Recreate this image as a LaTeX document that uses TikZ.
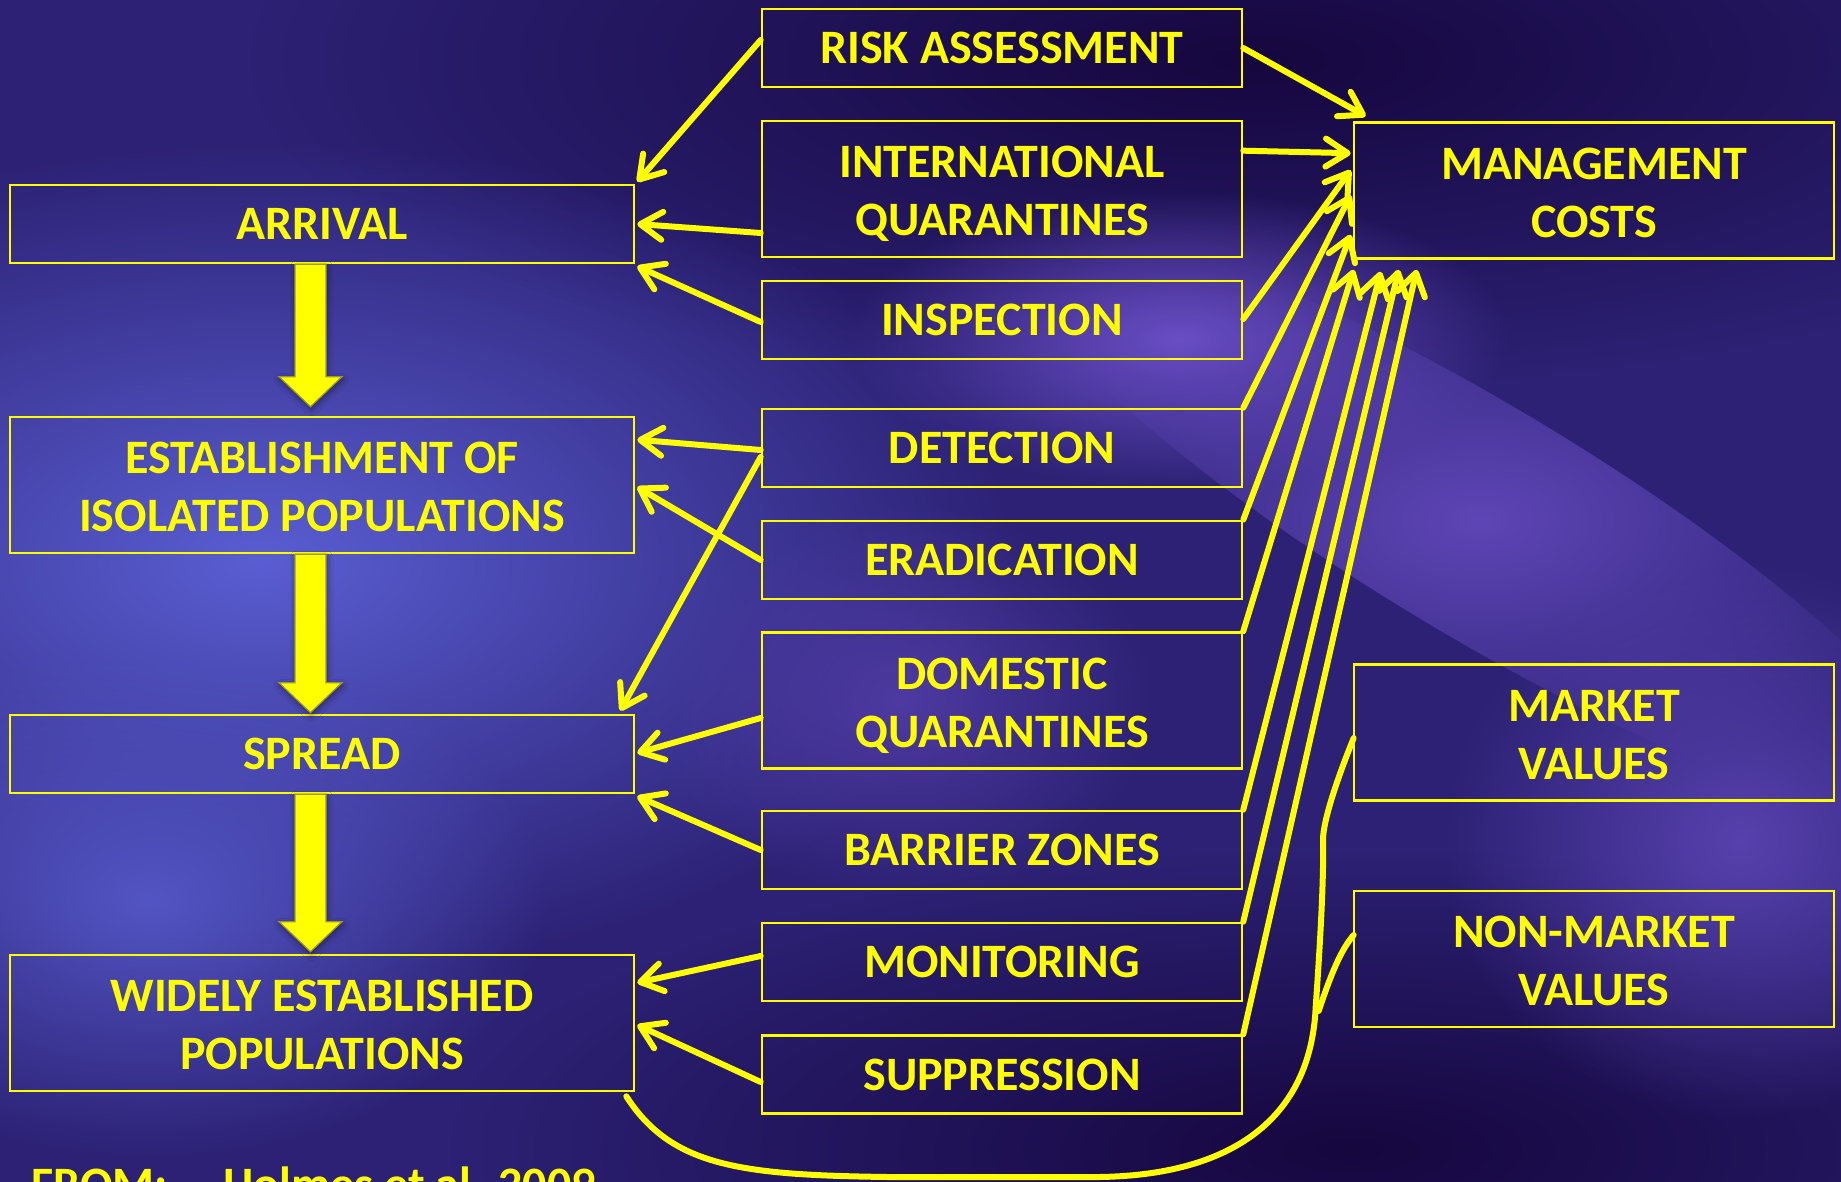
\documentclass[tikz,border=0pt]{standalone}
\usepackage{fontspec}
\setmainfont{Carlito}
\usetikzlibrary{arrows.meta,calc,fadings,shadows.blur}

\definecolor{bgbase}{HTML}{2C2174}
\definecolor{hiblue}{HTML}{5A5ED2}
\definecolor{hiviolet}{HTML}{6A4FC6}
\definecolor{deep}{HTML}{16073F}
\definecolor{yel}{HTML}{FFFF00}
\definecolor{arrowedge}{HTML}{9A9A22}

\tikzfading[name=softblob, inner color=transparent!0, outer color=transparent!100]

\tikzset{
  x=0.5bp, y=-0.5bp,
  box/.style={draw=yel, line width=1.3bp, inner sep=0pt, align=center, text=yel,
    font=\fontsize{24bp}{29bp}\selectfont\bfseries},
  leftbox/.style={box, minimum width=312bp},
  midbox/.style={box, minimum width=240bp},
  rightbox/.style={box, minimum width=240bp},
  one/.style={minimum height=39bp},
  two/.style={minimum height=68bp},
  link/.style={draw=yel, line width=3bp, line cap=round, line join=round,
    -{Straight Barb[length=11bp,width=14bp,line cap=round,line join=round]}},
  plainlink/.style={draw=yel, line width=3bp, line cap=round, line join=round},
  blockarrow/.style={fill=yel, draw=arrowedge, line width=0.6bp, line join=miter,
    blur shadow={shadow xshift=0.5bp, shadow yshift=-1.5bp, shadow blur radius=3bp, shadow opacity=45}},
  blob/.style={fill=#1, path fading=softblob},
  caption/.style={text=yel, font=\fontsize{24bp}{29bp}\selectfont\bfseries, inner sep=0pt},
}

% two centred lines of box text, with a fixed first-line height and no
% descender below the second line, so every two-line label sits alike
\newcommand\twolines[2]{\rule{0pt}{17.8bp}#1\\\smash{#2}}

% thick downward block arrow between two stacked boxes:
% #1 upper node, #2 lower node, #3 gap between tip and lower box
\newcommand\blockdown[3]{%
  \path[blockarrow]
    ($(#1.south)+(-27,0)$) -- ($(#1.south)+(4,0)$)
    -- ($(#2.north)+(4,-#3-30)$) -- ($(#2.north)+(20,-#3-30)$)
    -- ($(#2.north)+(-11.5,-#3)$)
    -- ($(#2.north)+(-43,-#3-30)$) -- ($(#2.north)+(-27,-#3-30)$) -- cycle;
}

\begin{document}
\begin{tikzpicture}
\useasboundingbox (0,0) rectangle (1841,1182);
\clip (0,0) rectangle (1841,1182);

% ---- background ----
\fill[bgbase] (0,0) rectangle (1841,1182);
\fill[blob=deep] (1250,60) ellipse (1000 and 330);
\fill[blob=deep] (1350,1150) ellipse (900 and 300);
\fill[blob=hiblue] (260,560) ellipse (760 and 420);
\fill[blob=hiblue!85!bgbase] (150,900) ellipse (400 and 260);
\fill[blob=hiviolet] (1180,340) ellipse (330 and 150);
\fill[blob=hiviolet!80!bgbase, rotate around={-31:(1480,520)}] (1480,520) ellipse (540 and 115);
\fill[blob=hiviolet!70!bgbase] (1740,840) ellipse (300 and 280);
\fill[blob=hiviolet!55!bgbase] (900,700) ellipse (260 and 200);

% ---- stages of invasion ----
\node[leftbox, one] (arrival) at (322,224) {ARRIVAL};
\node[leftbox, two] (estab)   at (322,485) {\twolines{ESTABLISHMENT OF}{ISOLATED POPULATIONS}};
\node[leftbox, one] (spread)  at (322,754) {SPREAD};
\node[leftbox, two] (widely)  at (322,1023) {\twolines{WIDELY ESTABLISHED}{POPULATIONS}};

% ---- management actions ----
\node[midbox, one] (risk)     at (1002,48)    {RISK ASSESSMENT};
\node[midbox, two] (intl)     at (1002,189)   {\twolines{INTERNATIONAL}{QUARANTINES}};
\node[midbox, one] (insp)     at (1002,320)   {INSPECTION};
\node[midbox, one] (detect)   at (1002,448)   {DETECTION};
\node[midbox, one] (erad)     at (1002,560)   {ERADICATION};
\node[midbox, two] (dom)      at (1002,700.5) {\twolines{DOMESTIC}{QUARANTINES}};
\node[midbox, one] (barrier)  at (1002,850)   {BARRIER ZONES};
\node[midbox, one] (monit)    at (1002,962)   {MONITORING};
\node[midbox, one] (suppr)    at (1002,1074.5){SUPPRESSION};

% ---- costs and values ----
\node[rightbox, two] (mgmt)   at (1594,190.5) {\twolines{MANAGEMENT}{COSTS}};
\node[rightbox, two] (market) at (1594,732.5) {\twolines{MARKET}{VALUES}};
\node[rightbox, two] (nonmkt) at (1594,959)   {\twolines{NON-MARKET}{VALUES}};

% ---- stage progression ----
\blockdown{arrival}{estab}{9}
\blockdown{estab}{spread}{1}
\blockdown{spread}{widely}{2}

% ---- actions acting on stages ----
\draw[link] ($(risk.west)+(0,-8)$)  -- ($(arrival.north east)+(2,-2)$);
\draw[link] ($(intl.west)+(0,44)$)  -- ($(arrival.east)+(2,0)$);
\draw[link] ($(insp.west)+(0,2)$)   -- ($(arrival.south east)+(2,2)$);
\draw[link] ($(detect.west)+(0,2)$) -- ($(estab.north east)+(2,24)$);
\draw[link] ($(detect.west)+(0,9)$) -- ($(spread.north east)+(-15,-3)$);
\draw[link] (erad.west)             -- ($(estab.east)+(2,2)$);
\draw[link] ($(dom.west)+(0,17.5)$) -- ($(spread.east)+(2,-1)$);
\draw[link] (barrier.west)          -- ($(spread.south east)+(2,2)$);
\draw[link] ($(monit.west)+(0,-6)$) -- ($(widely.north east)+(2,29)$);
\draw[link] ($(suppr.west)+(0,7.5)$) -- ($(widely.east)+(2,2)$);

% ---- actions feeding management costs ----
\draw[link] (risk.east)                  -- ($(mgmt.north west)+(13,-5)$);
\draw[link] ($(intl.north east)+(0,31)$) -- ($(mgmt.north west)+(-2,32)$);
\draw[link] ($(insp.east)+(0,-1)$)       -- ($(mgmt.north west)+(-2,49)$);
\draw[link] (detect.north east)          -- ($(mgmt.north west)+(-2,74)$);
\draw[link] (erad.north east)            -- ($(mgmt.south west)+(-2,-25)$);
\draw[link] (dom.north east)             -- ($(mgmt.south west)+(1,10)$);
\draw[link] (barrier.north east)         -- ($(mgmt.south west)+(28,12)$);
\draw[link] (monit.north east)           -- ($(mgmt.south west)+(46,10)$);
\draw[link] (suppr.north east)           -- ($(mgmt.south west)+(64,10)$);

% ---- impacts of widespread populations on values ----
\coordinate (fork) at ($(nonmkt.west)+(-34,52)$);
\draw[plainlink] ($(widely.south east)+(-9,4)$)
  .. controls +(45,70) and +(-147,-2) .. (887,1177)
  -- (1100,1177)
  .. controls +(130,-2) and +(-5,113) .. ($(fork)+(-3,-4)$)
  .. controls +(4,-57) and +(1,40) .. (1323,840)
  .. controls +(0,-20) and +(-15,37) .. ($(market.west)+(1,5.5)$);
\draw[plainlink] (fork) .. controls +(12,-36) and +(-13,15) .. ($(nonmkt.west)+(1,-24)$);

% ---- source ----
\node[caption, anchor=base west] (source) at (31,1200)
  {\makebox[96bp][l]{FROM:}Holmes et al. 2009};
\end{tikzpicture}
\end{document}
